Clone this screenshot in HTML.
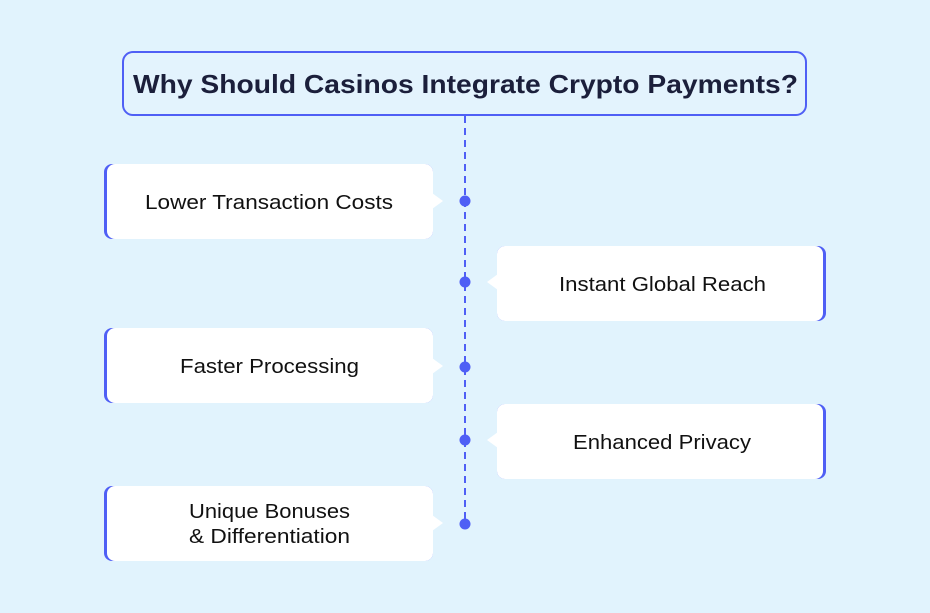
<!DOCTYPE html>
<html><head><meta charset="utf-8"><style>
html,body{margin:0;padding:0;background:#e1f3fd;}
svg{display:block;}
text{font-family:"Liberation Sans",sans-serif;}
</style></head><body>
<svg width="930" height="613" viewBox="0 0 930 613" xmlns="http://www.w3.org/2000/svg">
<rect width="930" height="613" fill="#e1f3fd"/>
<rect x="123" y="52" width="683" height="63" rx="10" fill="#e3f3fd" stroke="#4f5ff5" stroke-width="2"/>
<text x="133" y="93" font-size="26" font-weight="bold" fill="#1b1f3b" textLength="665" lengthAdjust="spacingAndGlyphs">Why Should Casinos Integrate Crypto Payments?</text>
<line x1="465" y1="116" x2="465" y2="525" stroke="#4f5ff5" stroke-width="2" stroke-dasharray="7,5"/>
<g fill="#4f5ff5">
<circle cx="465" cy="201" r="5.5"/><circle cx="465" cy="282" r="5.5"/><circle cx="465" cy="367" r="5.5"/><circle cx="465" cy="440" r="5.5"/><circle cx="465" cy="524" r="5.5"/>
</g>
<g>
<rect x="104" y="164" width="329" height="75" rx="8" fill="#4f5ff5"/>
<rect x="107" y="164" width="326" height="75" rx="8" fill="#fff"/>
<polygon points="432,193 443,201 432,209" fill="#fff"/>
<text x="145" y="209" font-size="20" fill="#111" textLength="248" lengthAdjust="spacingAndGlyphs">Lower Transaction Costs</text>

<rect x="104" y="328" width="329" height="75" rx="8" fill="#4f5ff5"/>
<rect x="107" y="328" width="326" height="75" rx="8" fill="#fff"/>
<polygon points="432,358 443,366 432,374" fill="#fff"/>
<text x="180" y="373" font-size="20" fill="#111" textLength="179" lengthAdjust="spacingAndGlyphs">Faster Processing</text>

<rect x="104" y="486" width="329" height="75" rx="8" fill="#4f5ff5"/>
<rect x="107" y="486" width="326" height="75" rx="8" fill="#fff"/>
<polygon points="432,515 443,523 432,531" fill="#fff"/>
<text x="189" y="518" font-size="20" fill="#111" textLength="161" lengthAdjust="spacingAndGlyphs">Unique Bonuses</text>
<text x="189" y="543" font-size="20" fill="#111" textLength="161" lengthAdjust="spacingAndGlyphs">&amp; Differentiation</text>
</g>
<g>
<rect x="497" y="246" width="329" height="75" rx="8" fill="#4f5ff5"/>
<rect x="497" y="246" width="326" height="75" rx="8" fill="#fff"/>
<polygon points="498,274 487,282 498,290" fill="#fff"/>
<text x="559" y="291" font-size="20" fill="#111" textLength="207" lengthAdjust="spacingAndGlyphs">Instant Global Reach</text>

<rect x="497" y="404" width="329" height="75" rx="8" fill="#4f5ff5"/>
<rect x="497" y="404" width="326" height="75" rx="8" fill="#fff"/>
<polygon points="498,432 487,440 498,448" fill="#fff"/>
<text x="573" y="449" font-size="20" fill="#111" textLength="178" lengthAdjust="spacingAndGlyphs">Enhanced Privacy</text>
</g>
</svg>
</body></html>
